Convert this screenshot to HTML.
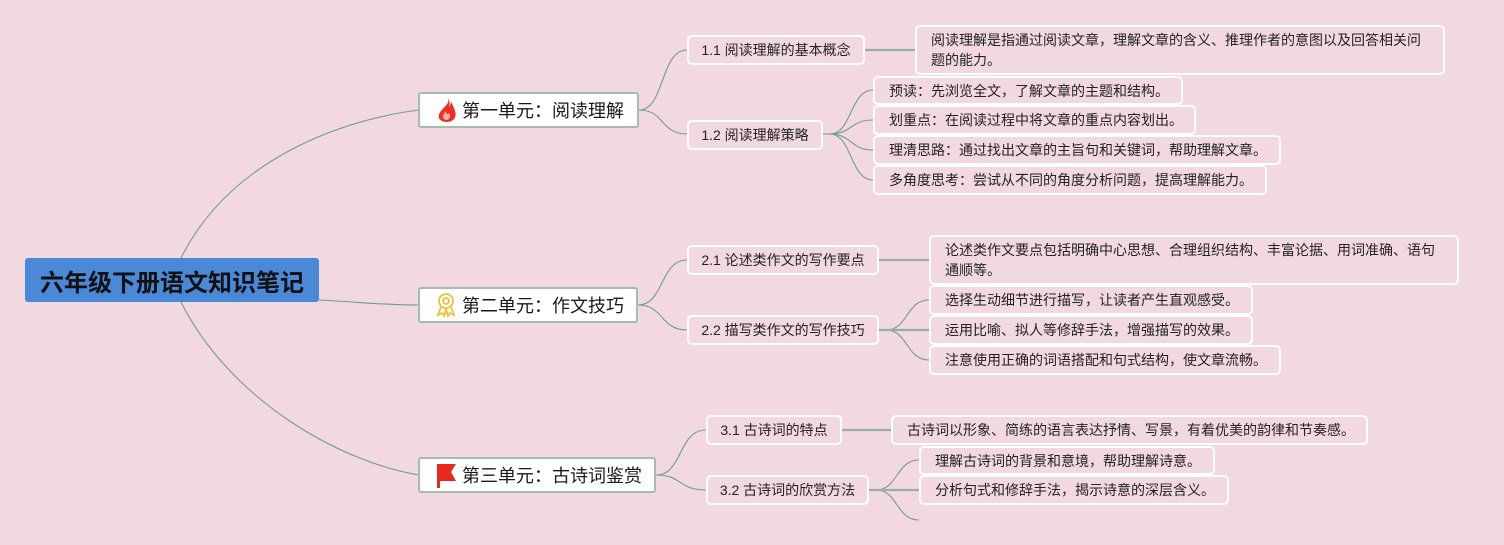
<!DOCTYPE html>
<html><head><meta charset="utf-8">
<style>
html,body{margin:0;padding:0;}
body{width:1504px;height:545px;background:#f2d9df;position:relative;overflow:hidden;font-family:"Liberation Sans","Noto Sans CJK SC",sans-serif;}
.b{position:absolute;box-sizing:border-box;display:flex;align-items:center;white-space:nowrap;color:#222;}
.root{background:#4a88d8;border-radius:3px;justify-content:center;font-weight:bold;font-size:24px;color:#111;}
.unit{background:#fff;border:2px solid #a3bdb3;border-radius:3px;font-size:18px;color:#1a1a1a;}
.l2{border:2px solid #fff;border-radius:5px;justify-content:center;font-size:14px;}
.lf{border:2px solid #fff;border-radius:5px;font-size:14px;padding-left:14px;}
.ds{border:2px solid #fff;border-radius:5px;font-size:14px;padding-left:14px;line-height:20px;white-space:normal;}
svg{position:absolute;left:0;top:0;}
</style></head><body>
<svg width="1504" height="545" viewBox="0 0 1504 545">
<g fill="none" stroke="#729c8e" stroke-width="1.1">
<path d="M181,258 C230,160 340,120 419,110"/>
<path d="M181,302 C230,400 340,462 419,475"/>
<path d="M319,300 C360,302 380,305 419,305"/>
<path d="M639,110 C665,110 660,50 687,50"/>
<path d="M639,110 C665,110 660,134 687,134"/>
<path d="M638,305 C664,305 660,260 687,260"/>
<path d="M638,305 C664,305 660,330 687,330"/>
<path d="M656,475 C683,475 678,430 706,430"/>
<path d="M656,475 C683,475 678,490 706,490"/>
<path d="M823,134 L830,134 C852,134 850,90 873,90"/>
<path d="M823,134 L830,134 C852,134 850,120 873,120"/>
<path d="M823,134 L830,134 C852,134 850,150 873,150"/>
<path d="M823,134 L830,134 C852,134 850,180 873,180"/>
<path d="M879,330 L886,330 C908,330 906,300 929,300"/>
<path d="M879,330 L886,330 C908,330 906,360 929,360"/>
<path d="M869,490 L876,490 C898,490 896,460 919,460"/>
<path d="M869,490 L876,490 C898,490 896,520 919,520"/>
</g>
<g stroke="#9aaea7" stroke-width="2.2" fill="none">
<path d="M865,50 L915,50"/>
<path d="M879,260 L929,260"/>
<path d="M842,430 L891,430"/>
<path d="M879,330 L929,330"/>
<path d="M869,490 L919,490"/>
</g>
</svg>

<div class="b root" style="left:25px;top:258px;width:294px;height:44px;">六年级下册语文知识笔记</div>

<div class="b unit" style="left:418px;top:92px;width:221px;height:36px;"><span style="position:absolute;left:42px;">第一单元：阅读理解</span></div>
<div class="b unit" style="left:418px;top:287px;width:220px;height:36px;"><span style="position:absolute;left:42px;">第二单元：作文技巧</span></div>
<div class="b unit" style="left:418px;top:457px;width:238px;height:36px;"><span style="position:absolute;left:42px;">第三单元：古诗词鉴赏</span></div>

<svg width="1504" height="545" viewBox="0 0 1504 545">
<path d="M448,98 C450,103 445,106 441,111 C437,116 438,121 446,122 C454,122 457,117 455,111 C454,107 452,105 452,102 C450,104 450,106 449,108 C450,104 450,101 448,98 Z" fill="#ec2f24"/>
<path d="M446,120 C442,119 442,115 446,111 C446,114 448,115 449,113 C451,116 450,120 446,120 Z" fill="#f7b0a8"/>
<g fill="none" stroke="#f2bf3a" stroke-width="1.8">
<circle cx="446" cy="301" r="7"/>
<circle cx="446" cy="301" r="3"/>
<path d="M441,307 L438,315 L442,313 L444,316 L446,309"/>
<path d="M451,307 L454,315 L450,313 L448,316 L446,309"/>
</g>
<path d="M437,464 L456,464 L451,472 L456,481 L440,481 L440,488 L437,488 Z" fill="#e8281e"/>
</svg>

<div class="b l2" style="left:687px;top:35px;width:178px;height:30px;">1.1 阅读理解的基本概念</div>
<div class="b ds" style="left:915px;top:25px;width:530px;height:50px;">阅读理解是指通过阅读文章，理解文章的含义、推理作者的意图以及回答相关问<br>题的能力。</div>
<div class="b l2" style="left:687px;top:120px;width:136px;height:30px;">1.2 阅读理解策略</div>
<div class="b lf" style="left:873px;top:76px;width:310px;height:29px;">预读：先浏览全文，了解文章的主题和结构。</div>
<div class="b lf" style="left:873px;top:105px;width:323px;height:30px;">划重点：在阅读过程中将文章的重点内容划出。</div>
<div class="b lf" style="left:873px;top:135px;width:408px;height:30px;">理清思路：通过找出文章的主旨句和关键词，帮助理解文章。</div>
<div class="b lf" style="left:873px;top:165px;width:394px;height:30px;">多角度思考：尝试从不同的角度分析问题，提高理解能力。</div>

<div class="b l2" style="left:687px;top:245px;width:192px;height:30px;">2.1 论述类作文的写作要点</div>
<div class="b ds" style="left:929px;top:235px;width:530px;height:50px;">论述类作文要点包括明确中心思想、合理组织结构、丰富论据、用词准确、语句<br>通顺等。</div>
<div class="b l2" style="left:687px;top:315px;width:192px;height:30px;">2.2 描写类作文的写作技巧</div>
<div class="b lf" style="left:929px;top:285px;width:324px;height:30px;">选择生动细节进行描写，让读者产生直观感受。</div>
<div class="b lf" style="left:929px;top:315px;width:324px;height:30px;">运用比喻、拟人等修辞手法，增强描写的效果。</div>
<div class="b lf" style="left:929px;top:345px;width:352px;height:30px;">注意使用正确的词语搭配和句式结构，使文章流畅。</div>

<div class="b l2" style="left:706px;top:415px;width:136px;height:30px;">3.1 古诗词的特点</div>
<div class="b lf" style="left:891px;top:415px;width:477px;height:30px;">古诗词以形象、简练的语言表达抒情、写景，有着优美的韵律和节奏感。</div>
<div class="b l2" style="left:706px;top:475px;width:163px;height:30px;">3.2 古诗词的欣赏方法</div>
<div class="b lf" style="left:919px;top:446px;width:296px;height:29px;">理解古诗词的背景和意境，帮助理解诗意。</div>
<div class="b lf" style="left:919px;top:475px;width:310px;height:30px;">分析句式和修辞手法，揭示诗意的深层含义。</div>
</body></html>
